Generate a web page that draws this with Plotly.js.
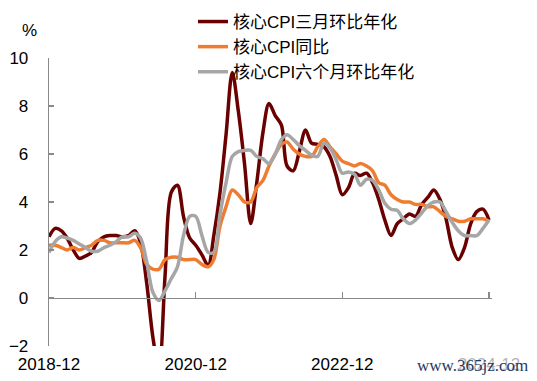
<!DOCTYPE html>
<html>
<head>
<meta charset="utf-8">
<script src="https://cdn.plot.ly/plotly-3.0.1.min.js"></script>
<style>
html,body{margin:0;padding:0;background:#fff;}
#chart{width:537px;height:381px;}
</style>
</head>
<body>
<div id="chart"></div>
<script>
var months = [
 "2018-12",
 "2019-01","2019-02","2019-03","2019-04","2019-05","2019-06","2019-07","2019-08","2019-09","2019-10","2019-11","2019-12",
 "2020-01","2020-02","2020-03","2020-04","2020-05","2020-06","2020-07","2020-08","2020-09","2020-10","2020-11","2020-12",
 "2021-01","2021-02","2021-03","2021-04","2021-05","2021-06","2021-07","2021-08","2021-09","2021-10","2021-11","2021-12",
 "2022-01","2022-02","2022-03","2022-04","2022-05","2022-06","2022-07","2022-08","2022-09","2022-10","2022-11","2022-12",
 "2023-01","2023-02","2023-03","2023-04","2023-05","2023-06","2023-07","2023-08","2023-09","2023-10","2023-11","2023-12",
 "2024-01","2024-02","2024-03","2024-04","2024-05","2024-06","2024-07","2024-08","2024-09","2024-10","2024-11","2024-12"
];

// 核心CPI三月环比年化
var core3m = [
 2.55,
 2.9, 2.8, 2.5, 2.0, 1.65, 1.75, 1.9, 2.35, 2.55, 2.6, 2.6, 2.55,
 2.6, 2.8, 2.3, 0.6, -1.6, -3.0, 0.9, 4.4, 4.7, 3.4, 2.5, 2.2,
 1.8, 1.35, 2.6, 4.4, 6.8, 9.4, 7.8, 5.6, 3.1, 4.8, 6.9, 8.1,
 7.6, 7.2, 5.5, 5.3, 6.1, 7.0, 6.45, 6.4, 6.3, 5.9, 5.1, 4.3,
 4.6, 5.2, 5.1, 5.2, 4.8, 4.1, 3.25, 2.6, 3.1, 3.3, 3.5, 3.4,
 3.9, 4.2, 4.5, 4.1, 3.3, 2.1, 1.6, 2.1, 3.1, 3.6, 3.7, 3.25
];

// 核心CPI同比
var coreYoY = [
 2.2,
 2.2, 2.1, 2.0, 2.1, 2.0, 2.1, 2.2, 2.4, 2.4, 2.3, 2.3, 2.3,
 2.3, 2.4, 2.1, 1.4, 1.2, 1.2, 1.6, 1.7, 1.7, 1.6, 1.6, 1.6,
 1.4, 1.3, 1.6, 3.0, 3.8, 4.5, 4.3, 4.0, 4.0, 4.6, 4.9, 5.5,
 6.0, 6.4, 6.5, 6.2, 6.0, 5.9, 5.9, 6.3, 6.6, 6.3, 6.0, 5.7,
 5.6, 5.5, 5.6, 5.5, 5.3, 4.8, 4.7, 4.3, 4.1, 4.0, 4.0, 3.9,
 3.9, 3.8, 3.8, 3.6, 3.4, 3.3, 3.2, 3.2, 3.3, 3.3, 3.3, 3.2
];

// 核心CPI六个月环比年化
var core6m = [
 1.9,
 2.35, 2.55, 2.5, 2.4, 2.25, 2.1, 1.95, 1.95, 2.1, 2.2, 2.35, 2.55,
 2.55, 2.7, 2.5, 1.5, 0.25, -0.1, 0.3, 0.8, 1.3, 2.6, 3.4, 3.4,
 2.6, 1.9, 1.9, 3.5, 4.8, 5.9, 6.1, 6.15, 6.15, 5.9, 5.8, 5.6,
 6.0, 6.6, 6.8, 6.6, 6.35, 6.15, 5.95, 5.9, 6.45, 6.25, 5.75, 5.2,
 5.25, 5.15, 4.7, 4.95, 4.9, 4.5, 3.95, 3.7, 3.65, 3.3, 3.1, 3.25,
 3.55, 3.85, 4.0, 4.0, 3.6, 3.15, 2.8, 2.6, 2.6, 2.6, 2.9, 3.25
];

var seriesNames = ["核心CPI三月环比年化", "核心CPI同比", "核心CPI六个月环比年化"];
var tickDates = ["2018-12", "2020-12", "2022-12", "2024-12"];
var tickLabels = ["2018-12", "2020-12", "2022-12", "2024-12"];
var yTicks = [-2, 0, 2, 4, 6, 8, 10];

var FONT = "Liberation Sans, Arial, 'Noto Sans CJK SC', sans-serif";
var AXIS = "#898989";

function mk(y, name, color) {
  return {
    x: months, y: y, name: name, type: "scatter", mode: "lines",
    line: {color: color, width: 3.5, shape: "spline", smoothing: 0.9}
  };
}

var data = [
  mk(core3m, seriesNames[0], "#6B0000"),
  mk(coreYoY, seriesNames[1], "#EE7D31"),
  mk(core6m, seriesNames[2], "#A6A6A6")
];

var layout = {
  width: 537, height: 381,
  margin: {l: 49, r: 45, t: 58, b: 35, pad: 0, autoexpand: false},
  paper_bgcolor: "#fff", plot_bgcolor: "#fff",
  font: {family: FONT, size: 17, color: "#000"},
  showlegend: true,
  legend: {
    x: 0.3250, xanchor: "left", y: 1.1875, yanchor: "top",
    bgcolor: "rgba(0,0,0,0)", borderwidth: 0,
    font: {family: FONT, size: 17, color: "#000"},
    traceorder: "normal", tracegroupgap: 0
  },
  xaxis: {
    type: "date",
    range: ["2018-12-01", "2024-12-16"],
    anchor: "free", position: 2 / 12,
    showline: true, linecolor: AXIS, linewidth: 1.3,
    ticks: "inside", ticklen: 6, tickwidth: 1.3, tickcolor: AXIS,
    tickvals: tickDates, ticktext: tickLabels,
    tickfont: {family: FONT, size: 17, color: "#000"},
    ticklabelstandoff: 50,
    showgrid: false, zeroline: false, fixedrange: true
  },
  yaxis: {
    range: [-2, 10],
    tickvals: yTicks,
    showline: true, linecolor: AXIS, linewidth: 1.3,
    ticks: "inside", ticklen: 5, tickwidth: 1.3, tickcolor: AXIS,
    tickfont: {family: FONT, size: 17, color: "#000"},
    ticklabelstandoff: 16,
    showgrid: false, zeroline: false, fixedrange: true
  },
  annotations: [
    {text: "%", xref: "paper", yref: "paper", x: -0.0451, y: 1.097,
     xanchor: "center", yanchor: "middle", showarrow: false,
     font: {family: FONT, size: 17, color: "#000"}},
    {text: "www.365jz.com", xref: "paper", yref: "paper", x: 0.9549, y: -0.0694,
     xanchor: "center", yanchor: "middle", showarrow: false,
     bgcolor: "rgba(255,255,255,0.7)",
     font: {family: "Liberation Serif, 'DejaVu Serif', serif", size: 17, color: "#1F3864"}}
  ]
};

Plotly.newPlot("chart", data, layout, {displayModeBar: false, staticPlot: true});
</script>
</body>
</html>
